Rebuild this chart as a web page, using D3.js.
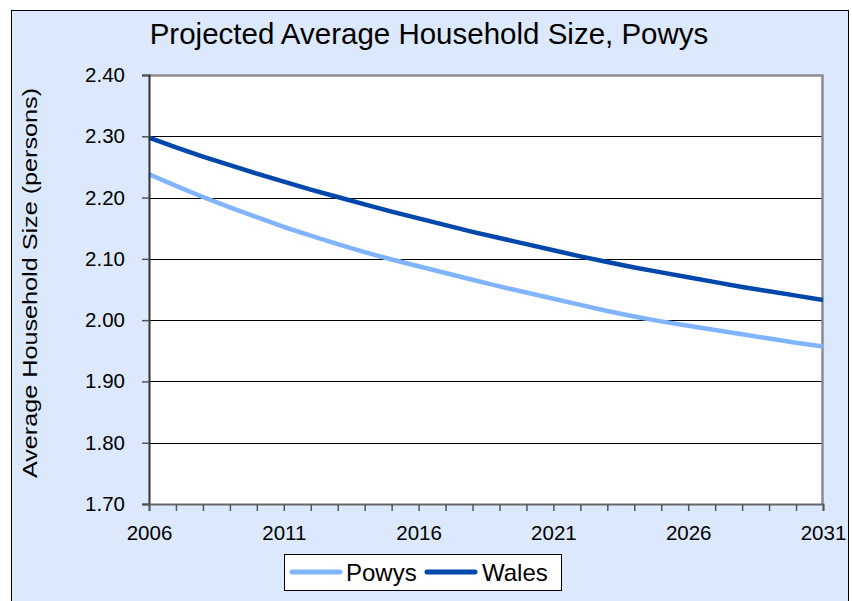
<!DOCTYPE html>
<html>
<head>
<meta charset="utf-8">
<script src="https://cdn.jsdelivr.net/npm/d3@7"></script>
<style>
  html, body { margin: 0; padding: 0; background: #ffffff; }
  svg { display: block; font-family: "Liberation Sans", Arial, sans-serif; }
</style>
</head>
<body>
<svg id="chart" width="852" height="601"></svg>
<script>
const years = [2006,2007,2008,2009,2010,2011,2012,2013,2014,2015,2016,2017,2018,2019,2020,2021,2022,2023,2024,2025,2026,2027,2028,2029,2030,2031];
const powys = [2.238,2.219,2.201,2.184,2.168,2.152,2.138,2.124,2.111,2.099,2.088,2.077,2.066,2.055,2.045,2.035,2.025,2.015,2.006,1.998,1.991,1.984,1.977,1.970,1.963,1.957];
const wales = [2.298,2.282,2.267,2.253,2.239,2.226,2.213,2.201,2.189,2.177,2.166,2.155,2.144,2.134,2.124,2.114,2.104,2.095,2.086,2.078,2.070,2.062,2.054,2.047,2.040,2.033];
const yTicks = [1.70,1.80,1.90,2.00,2.10,2.20,2.30,2.40];
const xTickLabels = [2006,2011,2016,2021,2026,2031];
const seriesNames = ["Powys","Wales"];
const seriesColors = ["#80b4ff","#0047ab"];
const title = "Projected Average Household Size, Powys";
const yTitle = "Average Household Size (persons)";

const svg = d3.select("#chart");
const FONT = "Liberation Sans, Arial, sans-serif";

// outer chart frame
svg.append("rect").attr("x",11.5).attr("y",10.5).attr("width",837).attr("height",600)
  .attr("fill","#dce9fc").attr("stroke","#000").attr("stroke-width",1);

const L = 149, R = 823, T = 75, B = 504;
const x = d3.scaleLinear().domain([2006,2031]).range([L,R]);
const y = d3.scaleLinear().domain([1.70,2.40]).range([B,T]);

// plot area
svg.append("rect").attr("x",L).attr("y",T).attr("width",R-L).attr("height",B-T).attr("fill","#fff");

// gridlines
svg.append("g").selectAll("line").data(yTicks.slice(1,-1)).join("line")
  .attr("x1",L).attr("x2",R).attr("y1",d=>Math.round(y(d))+0.5).attr("y2",d=>Math.round(y(d))+0.5)
  .attr("stroke","#000").attr("stroke-width",1);

// plot border top/right (grey)
svg.append("path").attr("d",`M${L},${T+0.5}H${R-0.5}V${B}`).attr("fill","none")
  .attr("stroke","#8c8c8c").attr("stroke-width",2.5);

// lines
const lineGen = d3.line().x((d,i)=>x(years[i])).y(d=>y(d));
[powys,wales].forEach((s,k)=>{
  svg.append("path").datum(s).attr("d",lineGen).attr("fill","none")
    .attr("stroke",seriesColors[k]).attr("stroke-width",4.5).attr("stroke-linejoin","round");
});

// y axis
const yAxis = d3.axisLeft(y).tickValues(yTicks).tickFormat(d3.format(".2f")).tickSize(7).tickPadding(17);
const gy = svg.append("g").attr("transform",`translate(${L},0)`).call(yAxis);
gy.select(".domain").attr("stroke","#333").attr("stroke-width",2);
gy.selectAll(".tick line").attr("stroke","#555").attr("stroke-width",1.5);
gy.selectAll(".tick text").attr("font-size",20.5).attr("fill","#000").attr("font-family",FONT);

// x axis
const xAxis = d3.axisBottom(x).tickValues(years).tickSize(7).tickPadding(14)
  .tickFormat(d=>xTickLabels.includes(d)?String(d):"");
const gx = svg.append("g").attr("transform",`translate(0,${B})`).call(xAxis);
gx.select(".domain").attr("stroke","#666").attr("stroke-width",2);
gx.selectAll(".tick line").attr("stroke","#555").attr("stroke-width",1.5);
gx.selectAll(".tick text").attr("font-size",20.5).attr("fill","#000").attr("font-family",FONT);

// title
svg.append("text").attr("x",429).attr("y",44).attr("text-anchor","middle")
  .attr("font-size",29.5).attr("fill","#000").text(title);

// y title (slightly elongated as in reference)
svg.append("text").attr("transform","translate(37,283) rotate(-90) scale(1.2,1)").attr("text-anchor","middle")
  .attr("font-size",21).attr("fill","#000").text(yTitle);

// legend
const lg = svg.append("g");
lg.append("rect").attr("x",284.5).attr("y",554.5).attr("width",277).attr("height",36)
  .attr("fill","#fff").attr("stroke","#000").attr("stroke-width",1);
const legendItems = [{x0:290, tx:346},{x0:425, tx:482}];
seriesNames.forEach((n,k)=>{
  const it = legendItems[k];
  lg.append("line").attr("x1",it.x0+2).attr("x2",it.x0+50).attr("y1",572).attr("y2",572)
    .attr("stroke",seriesColors[k]).attr("stroke-width",5).attr("stroke-linecap","round");
  lg.append("text").attr("x",it.tx).attr("y",581).attr("font-size",24).attr("fill","#000").text(n);
});
</script>
</body>
</html>
